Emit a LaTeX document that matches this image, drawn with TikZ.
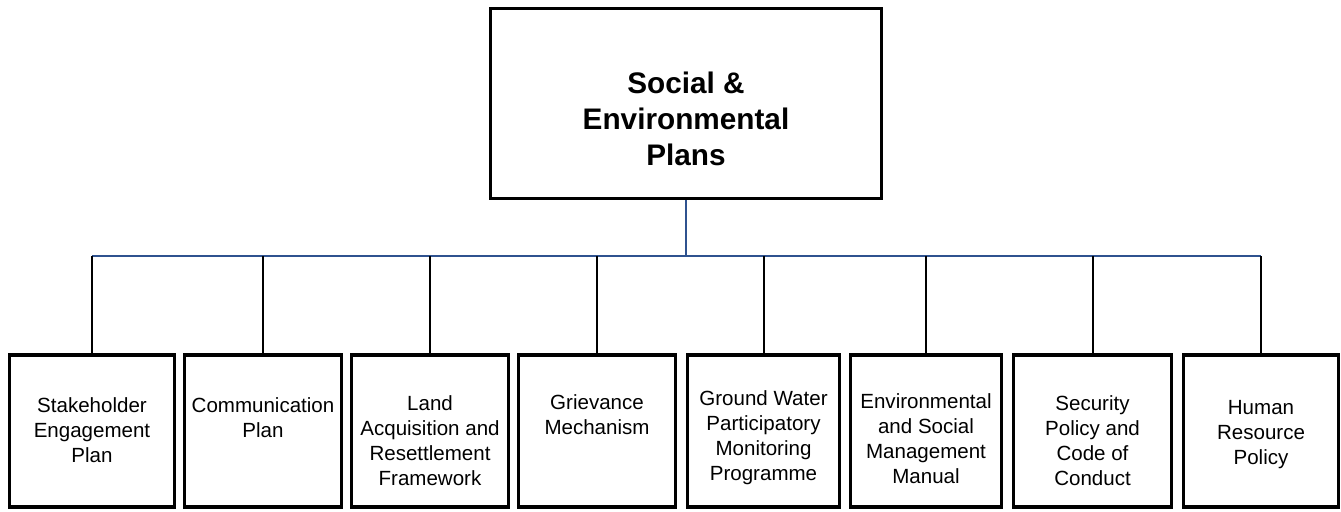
\documentclass[tikz,border=0pt]{standalone}
\usepackage{fontspec}
\setmainfont{Liberation Sans}
\usetikzlibrary{positioning}
\definecolor{busblue}{RGB}{47,82,143}
\tikzset{
  head/.style={draw, line width=2.5pt, minimum width=293.25pt, minimum height=142.5pt, inner sep=0pt},
  plan/.style={draw, line width=2.6pt, minimum height=114pt, inner sep=0pt},
  headtxt/.style={anchor=north, align=center, inner sep=0pt, font=\fontsize{22.3}{27}\selectfont\bfseries},
  txt/.style={anchor=north, align=center, inner sep=0pt, font=\fontsize{15.4}{18.75}\selectfont},
  bus/.style={draw=busblue, line width=1.5pt},
  drop/.style={draw=black, line width=1.5pt}
}
\begin{document}
\begin{tikzpicture}[x=0.75pt,y=0.75pt,yscale=-1,xscale=1]
        \path[use as bounding box] (0,0) rectangle (1341,511);

        %Shape: Rectangle
        \node[head] (sep) at (686,103.5) {};
        % Text Node
        \node[headtxt] (septxt) at (686,72) {Social \&\\Environmental\\Plans};

        %Shape: Rectangle
        \node[plan, minimum width=123.75pt] (plan1) at (92,431) {};
        %Shape: Rectangle
        \node[plan, minimum width=117.75pt] (plan2) at (263,431) {};
        %Shape: Rectangle
        \node[plan, minimum width=117.75pt] (plan3) at (430,431) {};
        %Shape: Rectangle
        \node[plan, minimum width=117.75pt] (plan4) at (597,431) {};
        %Shape: Rectangle
        \node[plan, minimum width=114pt] (plan5) at (763.5,431) {};
        %Shape: Rectangle
        \node[plan, minimum width=113.25pt] (plan6) at (926,431) {};
        %Shape: Rectangle
        \node[plan, minimum width=118.5pt] (plan7) at (1092.5,431) {};
        %Shape: Rectangle
        \node[plan, minimum width=116.25pt] (plan8) at (1261,431) {};

        %Straight Lines
        \coordinate (jn) at (686,256);
        \draw[bus] (sep.south) -- (jn);
        \draw[bus] (plan1.north |- jn) -- (plan8.north |- jn);
        %Straight Lines
        \draw[drop] (plan1.north) -- (plan1.north |- jn);
        \draw[drop] (plan2.north) -- (plan2.north |- jn);
        \draw[drop] (plan3.north) -- (plan3.north |- jn);
        \draw[drop] (plan4.north) -- (plan4.north |- jn);
        \draw[drop] (plan5.north) -- (plan5.north |- jn);
        \draw[drop] (plan6.north) -- (plan6.north |- jn);
        \draw[drop] (plan7.north) -- (plan7.north |- jn);
        \draw[drop] (plan8.north) -- (plan8.north |- jn);

        % Text Node
        \node[txt] (lab1) at (92,397) {Stakeholder\\Engagement\\Plan};
        % Text Node
        \node[txt] (lab2) at (263,397) {Communication\\Plan};
        % Text Node
        \node[txt] (lab3) at (430,395) {Land\\Acquisition and\\Resettlement\\Framework};
        % Text Node
        \node[txt] (lab4) at (597,394) {Grievance\\Mechanism};
        % Text Node
        \node[txt] (lab5) at (763.5,390) {Ground Water\\Participatory\\Monitoring\\Programme};
        % Text Node
        \node[txt] (lab6) at (926,393) {Environmental\\and Social\\Management\\Manual};
        % Text Node
        \node[txt] (lab7) at (1092.5,395) {Security\\Policy and\\Code of\\Conduct};
        % Text Node
        \node[txt] (lab8) at (1261,400) {Human\\Resource\\Policy};

\end{tikzpicture}
\end{document}
